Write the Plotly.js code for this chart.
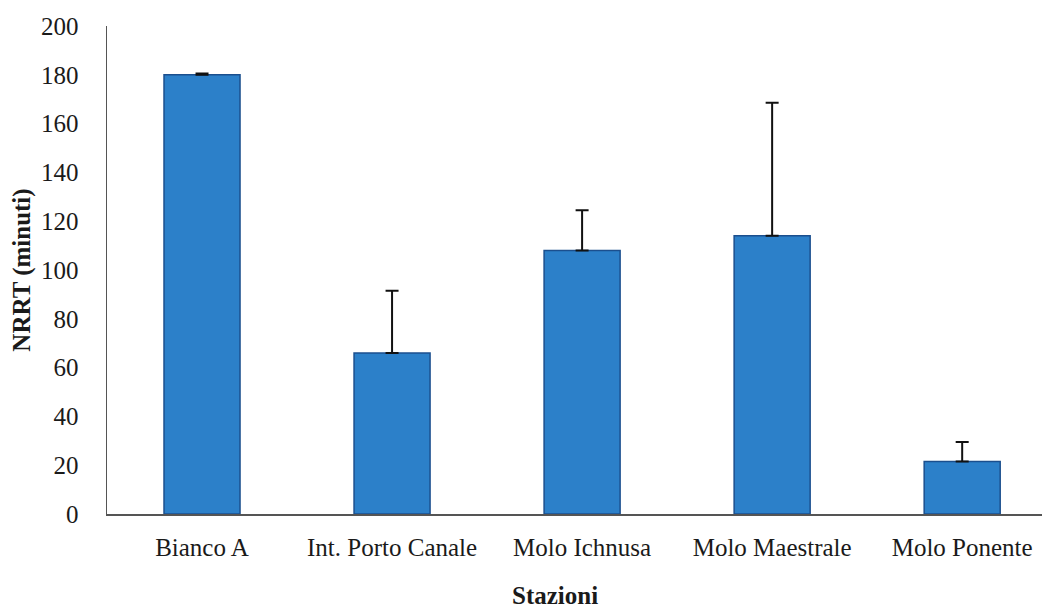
<!DOCTYPE html>
<html>
<head>
<meta charset="utf-8">
<script src="https://cdn.plot.ly/plotly-3.0.1.min.js"></script>
<style>html,body{margin:0;padding:0;background:#fff;}#chart{width:1042px;height:612px;}</style>
</head>
<body>
<div id="chart"></div>
<script>
const stations = ["Bianco A", "Int. Porto Canale", "Molo Ichnusa", "Molo Maestrale", "Molo Ponente"];
const nrrt = [180, 66, 108, 114, 21.5];
const nrrtErr = [0.5, 25.5, 16.5, 54.5, 8];
const yTicks = [0, 20, 40, 60, 80, 100, 120, 140, 160, 180, 200];

const serif = "Liberation Serif";
const ink = "#1a1a1a";

const trace = {
  type: "bar",
  x: stations,
  y: nrrt,
  marker: {color: "#2C80C9", line: {color: "#1B4F8E", width: 1.5}},
  error_y: {type: "data", array: nrrtErr, symmetric: false, arrayminus: nrrt.map(() => 0),
            color: "#111", thickness: 2, width: 6.5},
  hoverinfo: "x+y"
};

const layout = {
  width: 1042, height: 612,
  margin: {l: 107, r: 0, t: 26, b: 98},
  paper_bgcolor: "#fff", plot_bgcolor: "#fff",
  bargap: 0.6,
  showlegend: false,
  font: {family: serif, size: 25, color: ink},
  xaxis: {
    type: "category",
    range: [-0.5, 4.42],
    showline: true, linecolor: "#555", linewidth: 1.5,
    showgrid: false, zeroline: false,
    ticks: "", ticklabelstandoff: 10,
    tickfont: {family: serif, size: 25, color: ink}
  },
  yaxis: {
    range: [0, 200],
    tickmode: "array", tickvals: yTicks, ticktext: yTicks.map(String),
    showline: true, linecolor: "#555", linewidth: 1.5,
    showgrid: false, zeroline: false,
    ticks: "", ticklabelstandoff: 22,
    tickfont: {family: serif, size: 25, color: ink},
    title: {text: "<b>NRRT (minuti)</b>", font: {family: serif, size: 25, color: ink}, standoff: 3}
  },
  annotations: [{
    text: "<b>Stazioni</b>", xref: "paper", yref: "paper",
    x: 0.479, y: -0.166, xanchor: "center", yanchor: "middle",
    showarrow: false, font: {family: serif, size: 25, color: ink}
  }]
};

Plotly.newPlot("chart", [trace], layout, {displayModeBar: false, staticPlot: true});
</script>
</body>
</html>
